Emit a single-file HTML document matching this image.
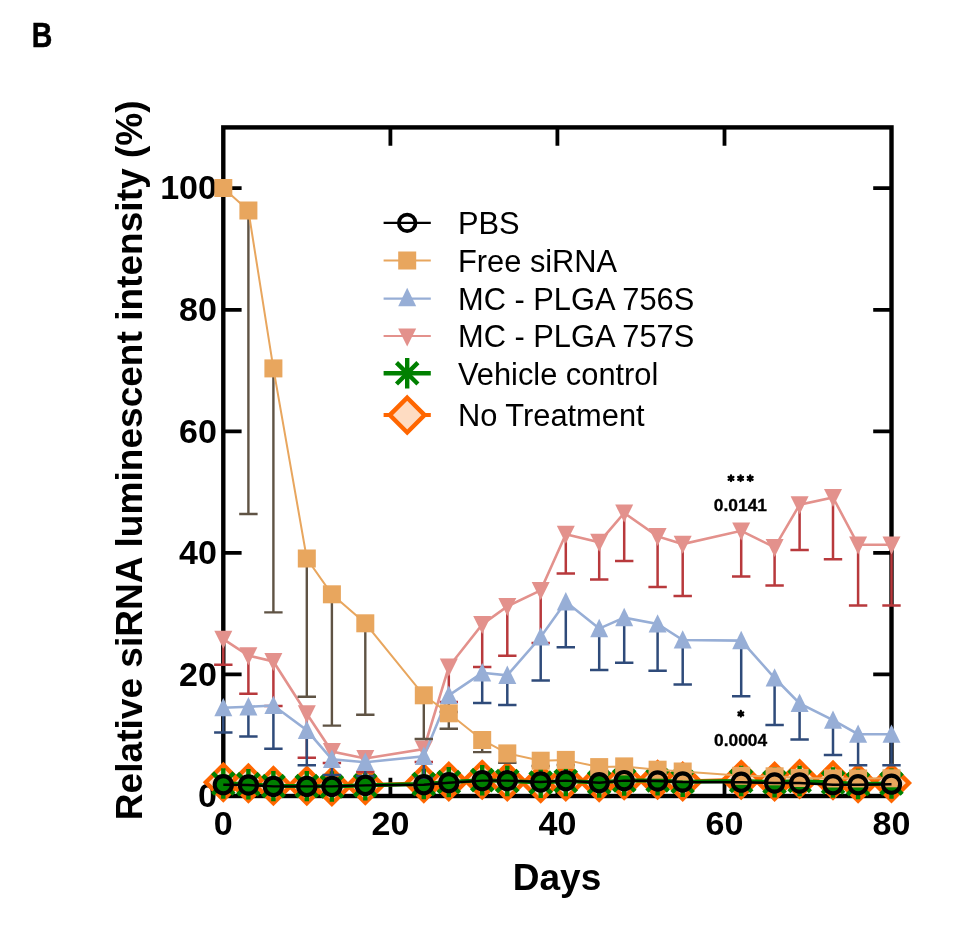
<!DOCTYPE html>
<html><head><meta charset="utf-8"><title>Figure B</title>
<style>
html,body{margin:0;padding:0;background:#fff;}
body{width:955px;height:927px;overflow:hidden;font-family:"Liberation Sans",sans-serif;}
svg{display:block;}
text{font-family:"Liberation Sans",sans-serif;fill:#000;}
.b{font-weight:bold;}
</style></head><body>
<svg style="will-change:transform" width="955" height="927" viewBox="0 0 955 927">
<rect width="955" height="927" fill="#fff"/>
<text class="b" x="31.8" y="46.9" font-size="34.2" textLength="20.6" lengthAdjust="spacingAndGlyphs" stroke="#000" stroke-width="0.5">B</text>
<rect x="223.3" y="127.4" width="668.2" height="668.6" fill="none" stroke="#000" stroke-width="4.4"/>
<path d="M223.3 674.4h18.3M891.5 674.4h-18.3M223.3 552.9h18.3M891.5 552.9h-18.3M223.3 431.3h18.3M891.5 431.3h-18.3M223.3 309.8h18.3M891.5 309.8h-18.3M223.3 188.2h18.3M891.5 188.2h-18.3M390.4 796v-18.3M390.4 127.4v18.3M557.4 796v-18.3M557.4 127.4v18.3M724.5 796v-18.3M724.5 127.4v18.3" stroke="#000" stroke-width="3.8" fill="none"/>
<text class="b" x="216.9" y="807.2" font-size="34" text-anchor="end">0</text>
<text class="b" x="216.9" y="685.6" font-size="34" text-anchor="end">20</text>
<text class="b" x="216.9" y="564.1" font-size="34" text-anchor="end">40</text>
<text class="b" x="216.9" y="442.5" font-size="34" text-anchor="end">60</text>
<text class="b" x="216.9" y="321" font-size="34" text-anchor="end">80</text>
<text class="b" x="216.9" y="199.4" font-size="34" text-anchor="end">100</text>
<text class="b" x="223.3" y="834.7" font-size="34" text-anchor="middle">0</text>
<text class="b" x="390.4" y="834.7" font-size="34" text-anchor="middle">20</text>
<text class="b" x="557.4" y="834.7" font-size="34" text-anchor="middle">40</text>
<text class="b" x="724.5" y="834.7" font-size="34" text-anchor="middle">60</text>
<text class="b" x="891.5" y="834.7" font-size="34" text-anchor="middle">80</text>
<text class="b" x="557" y="889.6" font-size="37" text-anchor="middle">Days</text>
<text class="b" transform="translate(141.8 460.3) rotate(-90)" font-size="37.1" text-anchor="middle">Relative siRNA luminescent intensity (%)</text>
<polyline points="223.3,782.3 248.4,783.3 273.4,785.8 306.8,785.8 331.9,786.5 365.3,785.3 423.8,783.3 448.8,781.5 482.2,779.7 507.3,781.5 540.7,783.3 565.8,781.5 599.2,782.3 624.2,780.3 657.6,779.7 682.7,781.5 741.2,779.7 774.6,781.5 799.6,779 833,780.3 858.1,783.3 891.5,783" fill="none" stroke="#FF6600" stroke-width="4"/>
<path d="M223.3 764.9L240.7 782.3L223.3 799.7L205.9 782.3Z" fill="#FEDCC2" stroke="#FF6600" stroke-width="4.4" stroke-linejoin="miter"/>
<path d="M248.4 765.9L265.8 783.3L248.4 800.7L231 783.3Z" fill="#FEDCC2" stroke="#FF6600" stroke-width="4.4" stroke-linejoin="miter"/>
<path d="M273.4 768.4L290.8 785.8L273.4 803.2L256 785.8Z" fill="#FEDCC2" stroke="#FF6600" stroke-width="4.4" stroke-linejoin="miter"/>
<path d="M306.8 768.4L324.2 785.8L306.8 803.2L289.4 785.8Z" fill="#FEDCC2" stroke="#FF6600" stroke-width="4.4" stroke-linejoin="miter"/>
<path d="M331.9 769.1L349.3 786.5L331.9 803.9L314.5 786.5Z" fill="#FEDCC2" stroke="#FF6600" stroke-width="4.4" stroke-linejoin="miter"/>
<path d="M365.3 767.9L382.7 785.3L365.3 802.7L347.9 785.3Z" fill="#FEDCC2" stroke="#FF6600" stroke-width="4.4" stroke-linejoin="miter"/>
<path d="M423.8 765.9L441.2 783.3L423.8 800.7L406.4 783.3Z" fill="#FEDCC2" stroke="#FF6600" stroke-width="4.4" stroke-linejoin="miter"/>
<path d="M448.8 764.1L466.2 781.5L448.8 798.9L431.4 781.5Z" fill="#FEDCC2" stroke="#FF6600" stroke-width="4.4" stroke-linejoin="miter"/>
<path d="M482.2 762.3L499.6 779.7L482.2 797.1L464.8 779.7Z" fill="#FEDCC2" stroke="#FF6600" stroke-width="4.4" stroke-linejoin="miter"/>
<path d="M507.3 764.1L524.7 781.5L507.3 798.9L489.9 781.5Z" fill="#FEDCC2" stroke="#FF6600" stroke-width="4.4" stroke-linejoin="miter"/>
<path d="M540.7 765.9L558.1 783.3L540.7 800.7L523.3 783.3Z" fill="#FEDCC2" stroke="#FF6600" stroke-width="4.4" stroke-linejoin="miter"/>
<path d="M565.8 764.1L583.2 781.5L565.8 798.9L548.4 781.5Z" fill="#FEDCC2" stroke="#FF6600" stroke-width="4.4" stroke-linejoin="miter"/>
<path d="M599.2 764.9L616.6 782.3L599.2 799.7L581.8 782.3Z" fill="#FEDCC2" stroke="#FF6600" stroke-width="4.4" stroke-linejoin="miter"/>
<path d="M624.2 762.9L641.6 780.3L624.2 797.7L606.8 780.3Z" fill="#FEDCC2" stroke="#FF6600" stroke-width="4.4" stroke-linejoin="miter"/>
<path d="M657.6 762.3L675 779.7L657.6 797.1L640.2 779.7Z" fill="#FEDCC2" stroke="#FF6600" stroke-width="4.4" stroke-linejoin="miter"/>
<path d="M682.7 764.1L700.1 781.5L682.7 798.9L665.3 781.5Z" fill="#FEDCC2" stroke="#FF6600" stroke-width="4.4" stroke-linejoin="miter"/>
<path d="M741.2 762.3L758.6 779.7L741.2 797.1L723.8 779.7Z" fill="#FEDCC2" stroke="#FF6600" stroke-width="4.4" stroke-linejoin="miter"/>
<path d="M774.6 764.1L792 781.5L774.6 798.9L757.2 781.5Z" fill="#FEDCC2" stroke="#FF6600" stroke-width="4.4" stroke-linejoin="miter"/>
<path d="M799.6 761.6L817 779L799.6 796.4L782.2 779Z" fill="#FEDCC2" stroke="#FF6600" stroke-width="4.4" stroke-linejoin="miter"/>
<path d="M833 762.9L850.4 780.3L833 797.7L815.6 780.3Z" fill="#FEDCC2" stroke="#FF6600" stroke-width="4.4" stroke-linejoin="miter"/>
<path d="M858.1 765.9L875.5 783.3L858.1 800.7L840.7 783.3Z" fill="#FEDCC2" stroke="#FF6600" stroke-width="4.4" stroke-linejoin="miter"/>
<path d="M891.5 765.6L908.9 783L891.5 800.4L874.1 783Z" fill="#FEDCC2" stroke="#FF6600" stroke-width="4.4" stroke-linejoin="miter"/>
<polyline points="223.3,783.5 248.4,784.1 273.4,786.1 306.8,786.1 331.9,786.5 365.3,785.3 423.8,784 448.8,782.1 482.2,780.2 507.3,781 540.7,782.6 565.8,781 599.2,782.5 624.2,780.5 657.6,780.4 682.7,781.8 741.2,781 774.6,782.2 799.6,781 833,782.5 858.1,784 891.5,783.6" fill="none" stroke="#008000" stroke-width="4"/>
<circle cx="223.3" cy="783.5" r="9.5" fill="#008000"/>
<path d="M223.3 768.3V798.7M212.6 772.8L234 794.2M212.6 794.2L234 772.8" stroke="#008000" stroke-width="4.4" fill="none"/>
<circle cx="248.4" cy="784.1" r="9.5" fill="#008000"/>
<path d="M248.4 768.9V799.4M237.6 773.4L259.1 794.9M237.6 794.9L259.1 773.4" stroke="#008000" stroke-width="4.4" fill="none"/>
<circle cx="273.4" cy="786.1" r="9.5" fill="#008000"/>
<path d="M273.4 770.9V801.3M262.7 775.4L284.2 796.8M262.7 796.8L284.2 775.4" stroke="#008000" stroke-width="4.4" fill="none"/>
<circle cx="306.8" cy="786.1" r="9.5" fill="#008000"/>
<path d="M306.8 770.9V801.3M296.1 775.4L317.6 796.8M296.1 796.8L317.6 775.4" stroke="#008000" stroke-width="4.4" fill="none"/>
<circle cx="331.9" cy="786.5" r="9.5" fill="#008000"/>
<path d="M331.9 771.2V801.7M321.1 775.7L342.6 797.2M321.1 797.2L342.6 775.7" stroke="#008000" stroke-width="4.4" fill="none"/>
<circle cx="365.3" cy="785.3" r="9.5" fill="#008000"/>
<path d="M365.3 770.1V800.5M354.5 774.6L376 796.1M354.5 796.1L376 774.6" stroke="#008000" stroke-width="4.4" fill="none"/>
<circle cx="423.8" cy="784" r="9.5" fill="#008000"/>
<path d="M423.8 768.8V799.2M413 773.3L434.5 794.7M413 794.7L434.5 773.3" stroke="#008000" stroke-width="4.4" fill="none"/>
<circle cx="448.8" cy="782.1" r="9.5" fill="#008000"/>
<path d="M448.8 766.9V797.3M438.1 771.4L459.6 792.8M438.1 792.8L459.6 771.4" stroke="#008000" stroke-width="4.4" fill="none"/>
<circle cx="482.2" cy="780.2" r="9.5" fill="#008000"/>
<path d="M482.2 765V795.4M471.5 769.4L493 790.9M471.5 790.9L493 769.4" stroke="#008000" stroke-width="4.4" fill="none"/>
<circle cx="507.3" cy="781" r="9.5" fill="#008000"/>
<path d="M507.3 765.8V796.2M496.5 770.3L518 791.8M496.5 791.8L518 770.3" stroke="#008000" stroke-width="4.4" fill="none"/>
<circle cx="540.7" cy="782.6" r="9.5" fill="#008000"/>
<path d="M540.7 767.4V797.9M529.9 771.9L551.4 793.4M529.9 793.4L551.4 771.9" stroke="#008000" stroke-width="4.4" fill="none"/>
<circle cx="565.8" cy="781" r="9.5" fill="#008000"/>
<path d="M565.8 765.8V796.2M555 770.3L576.5 791.8M555 791.8L576.5 770.3" stroke="#008000" stroke-width="4.4" fill="none"/>
<circle cx="599.2" cy="782.5" r="9.5" fill="#008000"/>
<path d="M599.2 767.3V797.7M588.4 771.8L609.9 793.2M588.4 793.2L609.9 771.8" stroke="#008000" stroke-width="4.4" fill="none"/>
<circle cx="624.2" cy="780.5" r="9.5" fill="#008000"/>
<path d="M624.2 765.2V795.7M613.5 769.7L635 791.2M613.5 791.2L635 769.7" stroke="#008000" stroke-width="4.4" fill="none"/>
<circle cx="657.6" cy="780.4" r="9.5" fill="#008000"/>
<path d="M657.6 765.1V795.6M646.9 769.6L668.4 791.1M646.9 791.1L668.4 769.6" stroke="#008000" stroke-width="4.4" fill="none"/>
<circle cx="682.7" cy="781.8" r="9.5" fill="#008000"/>
<path d="M682.7 766.5V797M671.9 771L693.4 792.5M671.9 792.5L693.4 771" stroke="#008000" stroke-width="4.4" fill="none"/>
<circle cx="741.2" cy="781" r="9.5" fill="#008000"/>
<path d="M741.2 765.8V796.2M730.4 770.2L751.9 791.7M730.4 791.7L751.9 770.2" stroke="#008000" stroke-width="4.4" fill="none"/>
<circle cx="774.6" cy="782.2" r="9.5" fill="#008000"/>
<path d="M774.6 767V797.5M763.8 771.5L785.3 793M763.8 793L785.3 771.5" stroke="#008000" stroke-width="4.4" fill="none"/>
<circle cx="799.6" cy="781" r="9.5" fill="#008000"/>
<path d="M799.6 765.8V796.2M788.9 770.3L810.4 791.7M788.9 791.7L810.4 770.3" stroke="#008000" stroke-width="4.4" fill="none"/>
<circle cx="833" cy="782.5" r="9.5" fill="#008000"/>
<path d="M833 767.3V797.7M822.3 771.8L843.8 793.2M822.3 793.2L843.8 771.8" stroke="#008000" stroke-width="4.4" fill="none"/>
<circle cx="858.1" cy="784" r="9.5" fill="#008000"/>
<path d="M858.1 768.8V799.2M847.3 773.3L868.8 794.7M847.3 794.7L868.8 773.3" stroke="#008000" stroke-width="4.4" fill="none"/>
<circle cx="891.5" cy="783.6" r="9.5" fill="#008000"/>
<path d="M891.5 768.4V798.8M880.8 772.9L902.2 794.3M880.8 794.3L902.2 772.9" stroke="#008000" stroke-width="4.4" fill="none"/>
<path d="M223.3 639.2V664.8M214.1 664.8H232.5" stroke="#B8393C" stroke-width="2.5" fill="none"/>
<path d="M248.4 655.6V693.7M239.2 693.7H257.6" stroke="#B8393C" stroke-width="2.5" fill="none"/>
<path d="M273.4 661.5V706M264.2 706H282.6" stroke="#B8393C" stroke-width="2.5" fill="none"/>
<path d="M306.8 713.7V757.8M297.6 757.8H316" stroke="#B8393C" stroke-width="2.5" fill="none"/>
<path d="M331.9 751.5V763M322.7 763H341.1" stroke="#B8393C" stroke-width="2.5" fill="none"/>
<path d="M365.3 758.5V772M356.1 772H374.5" stroke="#B8393C" stroke-width="2.5" fill="none"/>
<path d="M423.8 749V762M414.6 762H433" stroke="#B8393C" stroke-width="2.5" fill="none"/>
<path d="M448.8 666.8V702M439.6 702H458" stroke="#B8393C" stroke-width="2.5" fill="none"/>
<path d="M482.2 624.5V667M473 667H491.4" stroke="#B8393C" stroke-width="2.5" fill="none"/>
<path d="M507.3 606.4V655.8M498.1 655.8H516.5" stroke="#B8393C" stroke-width="2.5" fill="none"/>
<path d="M540.7 590.3V642.9M531.5 642.9H549.9" stroke="#B8393C" stroke-width="2.5" fill="none"/>
<path d="M565.8 534.2V573.4M556.6 573.4H575" stroke="#B8393C" stroke-width="2.5" fill="none"/>
<path d="M599.2 542.2V579.6M590 579.6H608.4" stroke="#B8393C" stroke-width="2.5" fill="none"/>
<path d="M624.2 513V561M615 561H633.4" stroke="#B8393C" stroke-width="2.5" fill="none"/>
<path d="M657.6 536.4V586.9M648.4 586.9H666.8" stroke="#B8393C" stroke-width="2.5" fill="none"/>
<path d="M682.7 544.1V596M673.5 596H691.9" stroke="#B8393C" stroke-width="2.5" fill="none"/>
<path d="M741.2 530.8V576.5M732 576.5H750.4" stroke="#B8393C" stroke-width="2.5" fill="none"/>
<path d="M774.6 547.4V585.6M765.4 585.6H783.8" stroke="#B8393C" stroke-width="2.5" fill="none"/>
<path d="M799.6 504.7V550.1M790.4 550.1H808.8" stroke="#B8393C" stroke-width="2.5" fill="none"/>
<path d="M833 497.5V559.2M823.8 559.2H842.2" stroke="#B8393C" stroke-width="2.5" fill="none"/>
<path d="M858.1 544.8V605.5M848.9 605.5H867.3" stroke="#B8393C" stroke-width="2.5" fill="none"/>
<path d="M891.5 544.8V605.5M882.3 605.5H900.7" stroke="#B8393C" stroke-width="2.5" fill="none"/>
<polyline points="223.3,639.2 248.4,655.6 273.4,661.5 306.8,713.7 331.9,751.5 365.3,758.5 423.8,749 448.8,666.8 482.2,624.5 507.3,606.4 540.7,590.3 565.8,534.2 599.2,542.2 624.2,513 657.6,536.4 682.7,544.1 741.2,530.8 774.6,547.4 799.6,504.7 833,497.5 858.1,544.8 891.5,544.8" fill="none" stroke="#E3918C" stroke-width="2.6"/>
<path d="M223.3 648.8L232.3 630.8L214.3 630.8Z" fill="#E3918C"/>
<path d="M248.4 665.2L257.4 647.2L239.4 647.2Z" fill="#E3918C"/>
<path d="M273.4 671.1L282.4 653.1L264.4 653.1Z" fill="#E3918C"/>
<path d="M306.8 723.3L315.8 705.3L297.8 705.3Z" fill="#E3918C"/>
<path d="M331.9 761.1L340.9 743.1L322.9 743.1Z" fill="#E3918C"/>
<path d="M365.3 768.1L374.3 750.1L356.3 750.1Z" fill="#E3918C"/>
<path d="M423.8 758.6L432.8 740.6L414.8 740.6Z" fill="#E3918C"/>
<path d="M448.8 676.4L457.8 658.4L439.8 658.4Z" fill="#E3918C"/>
<path d="M482.2 634.1L491.2 616.1L473.2 616.1Z" fill="#E3918C"/>
<path d="M507.3 616L516.3 598L498.3 598Z" fill="#E3918C"/>
<path d="M540.7 599.9L549.7 581.9L531.7 581.9Z" fill="#E3918C"/>
<path d="M565.8 543.8L574.8 525.8L556.8 525.8Z" fill="#E3918C"/>
<path d="M599.2 551.8L608.2 533.8L590.2 533.8Z" fill="#E3918C"/>
<path d="M624.2 522.6L633.2 504.6L615.2 504.6Z" fill="#E3918C"/>
<path d="M657.6 546L666.6 528L648.6 528Z" fill="#E3918C"/>
<path d="M682.7 553.7L691.7 535.7L673.7 535.7Z" fill="#E3918C"/>
<path d="M741.2 540.4L750.2 522.4L732.2 522.4Z" fill="#E3918C"/>
<path d="M774.6 557L783.6 539L765.6 539Z" fill="#E3918C"/>
<path d="M799.6 514.3L808.6 496.3L790.6 496.3Z" fill="#E3918C"/>
<path d="M833 507.1L842 489.1L824 489.1Z" fill="#E3918C"/>
<path d="M858.1 554.4L867.1 536.4L849.1 536.4Z" fill="#E3918C"/>
<path d="M891.5 554.4L900.5 536.4L882.5 536.4Z" fill="#E3918C"/>
<path d="M223.3 707.7V732.4M214.1 732.4H232.5" stroke="#2F4B7A" stroke-width="2.5" fill="none"/>
<path d="M248.4 706.8V736.4M239.2 736.4H257.6" stroke="#2F4B7A" stroke-width="2.5" fill="none"/>
<path d="M273.4 705.5V748.7M264.2 748.7H282.6" stroke="#2F4B7A" stroke-width="2.5" fill="none"/>
<path d="M306.8 730.3V765.3M297.6 765.3H316" stroke="#2F4B7A" stroke-width="2.5" fill="none"/>
<path d="M331.9 759.3V775M322.7 775H341.1" stroke="#2F4B7A" stroke-width="2.5" fill="none"/>
<path d="M365.3 762.3V776M356.1 776H374.5" stroke="#2F4B7A" stroke-width="2.5" fill="none"/>
<path d="M423.8 756.3V778M414.6 778H433" stroke="#2F4B7A" stroke-width="2.5" fill="none"/>
<path d="M448.8 695.3V712M439.6 712H458" stroke="#2F4B7A" stroke-width="2.5" fill="none"/>
<path d="M482.2 672.8V703M473 703H491.4" stroke="#2F4B7A" stroke-width="2.5" fill="none"/>
<path d="M507.3 675.4V705M498.1 705H516.5" stroke="#2F4B7A" stroke-width="2.5" fill="none"/>
<path d="M540.7 637V680.4M531.5 680.4H549.9" stroke="#2F4B7A" stroke-width="2.5" fill="none"/>
<path d="M565.8 601.8V647.3M556.6 647.3H575" stroke="#2F4B7A" stroke-width="2.5" fill="none"/>
<path d="M599.2 628.6V670M590 670H608.4" stroke="#2F4B7A" stroke-width="2.5" fill="none"/>
<path d="M624.2 617.6V662.8M615 662.8H633.4" stroke="#2F4B7A" stroke-width="2.5" fill="none"/>
<path d="M657.6 624V670.8M648.4 670.8H666.8" stroke="#2F4B7A" stroke-width="2.5" fill="none"/>
<path d="M682.7 640V684.5M673.5 684.5H691.9" stroke="#2F4B7A" stroke-width="2.5" fill="none"/>
<path d="M741.2 640.6V696.2M732 696.2H750.4" stroke="#2F4B7A" stroke-width="2.5" fill="none"/>
<path d="M774.6 678V724.9M765.4 724.9H783.8" stroke="#2F4B7A" stroke-width="2.5" fill="none"/>
<path d="M799.6 703.4V739.4M790.4 739.4H808.8" stroke="#2F4B7A" stroke-width="2.5" fill="none"/>
<path d="M833 720.2V755M823.8 755H842.2" stroke="#2F4B7A" stroke-width="2.5" fill="none"/>
<path d="M858.1 734.2V765.3M848.9 765.3H867.3" stroke="#2F4B7A" stroke-width="2.5" fill="none"/>
<path d="M891.5 734.2V765.3M882.3 765.3H900.7" stroke="#2F4B7A" stroke-width="2.5" fill="none"/>
<polyline points="223.3,707.7 248.4,706.8 273.4,705.5 306.8,730.3 331.9,759.3 365.3,762.3 423.8,756.3 448.8,695.3 482.2,672.8 507.3,675.4 540.7,637 565.8,601.8 599.2,628.6 624.2,617.6 657.6,624 682.7,640 741.2,640.6 774.6,678 799.6,703.4 833,720.2 858.1,734.2 891.5,734.2" fill="none" stroke="#97AED6" stroke-width="2.6"/>
<path d="M223.3 697.9L232.3 716.3L214.3 716.3Z" fill="#97AED6"/>
<path d="M248.4 697L257.4 715.4L239.4 715.4Z" fill="#97AED6"/>
<path d="M273.4 695.7L282.4 714.1L264.4 714.1Z" fill="#97AED6"/>
<path d="M306.8 720.5L315.8 738.9L297.8 738.9Z" fill="#97AED6"/>
<path d="M331.9 749.5L340.9 767.9L322.9 767.9Z" fill="#97AED6"/>
<path d="M365.3 752.5L374.3 770.9L356.3 770.9Z" fill="#97AED6"/>
<path d="M423.8 746.5L432.8 764.9L414.8 764.9Z" fill="#97AED6"/>
<path d="M448.8 685.5L457.8 703.9L439.8 703.9Z" fill="#97AED6"/>
<path d="M482.2 663L491.2 681.4L473.2 681.4Z" fill="#97AED6"/>
<path d="M507.3 665.6L516.3 684L498.3 684Z" fill="#97AED6"/>
<path d="M540.7 627.2L549.7 645.6L531.7 645.6Z" fill="#97AED6"/>
<path d="M565.8 592L574.8 610.4L556.8 610.4Z" fill="#97AED6"/>
<path d="M599.2 618.8L608.2 637.2L590.2 637.2Z" fill="#97AED6"/>
<path d="M624.2 607.8L633.2 626.2L615.2 626.2Z" fill="#97AED6"/>
<path d="M657.6 614.2L666.6 632.6L648.6 632.6Z" fill="#97AED6"/>
<path d="M682.7 630.2L691.7 648.6L673.7 648.6Z" fill="#97AED6"/>
<path d="M741.2 630.8L750.2 649.2L732.2 649.2Z" fill="#97AED6"/>
<path d="M774.6 668.2L783.6 686.6L765.6 686.6Z" fill="#97AED6"/>
<path d="M799.6 693.6L808.6 712L790.6 712Z" fill="#97AED6"/>
<path d="M833 710.4L842 728.8L824 728.8Z" fill="#97AED6"/>
<path d="M858.1 724.4L867.1 742.8L849.1 742.8Z" fill="#97AED6"/>
<path d="M891.5 724.4L900.5 742.8L882.5 742.8Z" fill="#97AED6"/>
<path d="M248.4 210.5V514M239.2 514H257.6" stroke="#5f5344" stroke-width="2.4" fill="none"/>
<path d="M273.4 368.4V612.4M264.2 612.4H282.6" stroke="#5f5344" stroke-width="2.4" fill="none"/>
<path d="M306.8 558.5V696.7M297.6 696.7H316" stroke="#5f5344" stroke-width="2.4" fill="none"/>
<path d="M331.9 594.3V725.6M322.7 725.6H341.1" stroke="#5f5344" stroke-width="2.4" fill="none"/>
<path d="M365.3 623.3V714.8M356.1 714.8H374.5" stroke="#5f5344" stroke-width="2.4" fill="none"/>
<path d="M423.8 695.3V739M414.6 739H433" stroke="#5f5344" stroke-width="2.4" fill="none"/>
<path d="M448.8 713.3V728.8M439.6 728.8H458" stroke="#5f5344" stroke-width="2.4" fill="none"/>
<path d="M482.2 740V752.1M473 752.1H491.4" stroke="#5f5344" stroke-width="2.4" fill="none"/>
<path d="M507.3 753.4V762.8M498.1 762.8H516.5" stroke="#5f5344" stroke-width="2.4" fill="none"/>
<path d="M540.7 760.7V766M531.5 766H549.9" stroke="#5f5344" stroke-width="2.4" fill="none"/>
<path d="M565.8 759.9V765M556.6 765H575" stroke="#5f5344" stroke-width="2.4" fill="none"/>
<path d="M599.2 767.1V771M590 771H608.4" stroke="#5f5344" stroke-width="2.4" fill="none"/>
<path d="M624.2 766.4V770M615 770H633.4" stroke="#5f5344" stroke-width="2.4" fill="none"/>
<path d="M657.6 769.7V773M648.4 773H666.8" stroke="#5f5344" stroke-width="2.4" fill="none"/>
<path d="M682.7 771.5V774M673.5 774H691.9" stroke="#5f5344" stroke-width="2.4" fill="none"/>
<polyline points="223.3,188 248.4,210.5 273.4,368.4 306.8,558.5 331.9,594.3 365.3,623.3 423.8,695.3 448.8,713.3 482.2,740 507.3,753.4 540.7,760.7 565.8,759.9 599.2,767.1 624.2,766.4 657.6,769.7 682.7,771.5 741.2,775.8 774.6,776.3 799.6,778 833,778.5 858.1,778.5 891.5,778.3" fill="none" stroke="#E8A65E" stroke-width="2"/>
<rect x="214.3" y="179" width="18" height="18" fill="#E8A65E"/>
<rect x="239.4" y="201.5" width="18" height="18" fill="#E8A65E"/>
<rect x="264.4" y="359.4" width="18" height="18" fill="#E8A65E"/>
<rect x="297.8" y="549.5" width="18" height="18" fill="#E8A65E"/>
<rect x="322.9" y="585.3" width="18" height="18" fill="#E8A65E"/>
<rect x="356.3" y="614.3" width="18" height="18" fill="#E8A65E"/>
<rect x="414.8" y="686.3" width="18" height="18" fill="#E8A65E"/>
<rect x="439.8" y="704.3" width="18" height="18" fill="#E8A65E"/>
<rect x="473.2" y="731" width="18" height="18" fill="#E8A65E"/>
<rect x="498.3" y="744.4" width="18" height="18" fill="#E8A65E"/>
<rect x="531.7" y="751.7" width="18" height="18" fill="#E8A65E"/>
<rect x="556.8" y="750.9" width="18" height="18" fill="#E8A65E"/>
<rect x="590.2" y="758.1" width="18" height="18" fill="#E8A65E"/>
<rect x="615.2" y="757.4" width="18" height="18" fill="#E8A65E"/>
<rect x="648.6" y="760.7" width="18" height="18" fill="#E8A65E"/>
<rect x="673.7" y="762.5" width="18" height="18" fill="#E8A65E"/>
<rect x="732.2" y="766.8" width="18" height="18" fill="#E8A65E"/>
<rect x="765.6" y="767.3" width="18" height="18" fill="#E8A65E"/>
<rect x="790.6" y="769" width="18" height="18" fill="#E8A65E"/>
<rect x="824" y="769.5" width="18" height="18" fill="#E8A65E"/>
<rect x="849.1" y="769.5" width="18" height="18" fill="#E8A65E"/>
<rect x="882.5" y="769.3" width="18" height="18" fill="#E8A65E"/>
<polyline points="223.3,784.7 248.4,785 273.4,786.4 306.8,786.4 331.9,786.4 365.3,785.4 423.8,784.7 448.8,782.7 482.2,780.6 507.3,780.6 540.7,782 565.8,780.6 599.2,782.7 624.2,780.6 657.6,781 682.7,782 741.2,782.2 774.6,783 799.6,783 833,784.7 858.1,784.7 891.5,784.2" fill="none" stroke="#000" stroke-width="2.4"/>
<circle cx="223.3" cy="784.7" r="8.6" fill="none" stroke="#000" stroke-width="4.1"/>
<circle cx="248.4" cy="785" r="8.6" fill="none" stroke="#000" stroke-width="4.1"/>
<circle cx="273.4" cy="786.4" r="8.6" fill="none" stroke="#000" stroke-width="4.1"/>
<circle cx="306.8" cy="786.4" r="8.6" fill="none" stroke="#000" stroke-width="4.1"/>
<circle cx="331.9" cy="786.4" r="8.6" fill="none" stroke="#000" stroke-width="4.1"/>
<circle cx="365.3" cy="785.4" r="8.6" fill="none" stroke="#000" stroke-width="4.1"/>
<circle cx="423.8" cy="784.7" r="8.6" fill="none" stroke="#000" stroke-width="4.1"/>
<circle cx="448.8" cy="782.7" r="8.6" fill="none" stroke="#000" stroke-width="4.1"/>
<circle cx="482.2" cy="780.6" r="8.6" fill="none" stroke="#000" stroke-width="4.1"/>
<circle cx="507.3" cy="780.6" r="8.6" fill="none" stroke="#000" stroke-width="4.1"/>
<circle cx="540.7" cy="782" r="8.6" fill="none" stroke="#000" stroke-width="4.1"/>
<circle cx="565.8" cy="780.6" r="8.6" fill="none" stroke="#000" stroke-width="4.1"/>
<circle cx="599.2" cy="782.7" r="8.6" fill="none" stroke="#000" stroke-width="4.1"/>
<circle cx="624.2" cy="780.6" r="8.6" fill="none" stroke="#000" stroke-width="4.1"/>
<circle cx="657.6" cy="781" r="8.6" fill="none" stroke="#000" stroke-width="4.1"/>
<circle cx="682.7" cy="782" r="8.6" fill="none" stroke="#000" stroke-width="4.1"/>
<circle cx="741.2" cy="782.2" r="8.6" fill="none" stroke="#000" stroke-width="4.1"/>
<circle cx="774.6" cy="783" r="8.6" fill="none" stroke="#000" stroke-width="4.1"/>
<circle cx="799.6" cy="783" r="8.6" fill="none" stroke="#000" stroke-width="4.1"/>
<circle cx="833" cy="784.7" r="8.6" fill="none" stroke="#000" stroke-width="4.1"/>
<circle cx="858.1" cy="784.7" r="8.6" fill="none" stroke="#000" stroke-width="4.1"/>
<circle cx="891.5" cy="784.2" r="8.6" fill="none" stroke="#000" stroke-width="4.1"/>
<path d="M383.6 222.9H430.8" stroke="#000" stroke-width="2.4"/>
<circle cx="407.2" cy="222.9" r="8.3" fill="none" stroke="#000" stroke-width="3.8"/>
<path d="M383.6 260.5H430.8" stroke="#E8A65E" stroke-width="2"/>
<rect x="398.2" y="251.5" width="18" height="18" fill="#E8A65E"/>
<path d="M383.6 298.6H430.8" stroke="#97AED6" stroke-width="2.2"/>
<path d="M407.2 287.8L416.2 306.2L398.2 306.2Z" fill="#97AED6"/>
<path d="M383.6 336H430.8" stroke="#E3918C" stroke-width="2.2"/>
<path d="M407.2 346.6L416.2 328.6L398.2 328.6Z" fill="#E3918C"/>
<path d="M383.6 373.3H430.8" stroke="#008000" stroke-width="4.4"/>
<path d="M407.2 358.1V388.5M396.5 362.6L417.9 384M396.5 384L417.9 362.6" stroke="#008000" stroke-width="4.4" fill="none"/>
<path d="M383.6 415.1H430.8" stroke="#FF6600" stroke-width="4"/>
<path d="M407.2 397.7L424.6 415.1L407.2 432.5L389.8 415.1Z" fill="#FEDCC2" stroke="#FF6600" stroke-width="4.4" stroke-linejoin="miter"/>
<text x="458" y="234.2" font-size="30.8">PBS</text>
<text x="458" y="271.8" font-size="30.8">Free siRNA</text>
<text x="458" y="309.9" font-size="30.8">MC - PLGA 756S</text>
<text x="458" y="347.3" font-size="30.8">MC - PLGA 757S</text>
<text x="458" y="384.6" font-size="30.8">Vehicle control</text>
<text x="458" y="426.4" font-size="30.8">No Treatment</text>
<path d="M731 475.5L731 481.1M728.6 476.9L733.4 479.7M733.4 476.9L728.6 479.7" stroke="#000" stroke-width="2.3" stroke-linecap="round" fill="none"/>
<path d="M740.6 475.5L740.6 481.1M738.2 476.9L743 479.7M743 476.9L738.2 479.7" stroke="#000" stroke-width="2.3" stroke-linecap="round" fill="none"/>
<path d="M750.2 475.5L750.2 481.1M747.8 476.9L752.6 479.7M752.6 476.9L747.8 479.7" stroke="#000" stroke-width="2.3" stroke-linecap="round" fill="none"/>
<path d="M740.8 711L740.8 716.6M738.4 712.4L743.2 715.2M743.2 712.4L738.4 715.2" stroke="#000" stroke-width="2.3" stroke-linecap="round" fill="none"/>
<text class="b" x="740.4" y="510.9" font-size="17.4" text-anchor="middle" stroke="#000" stroke-width="0.3">0.0141</text>
<text class="b" x="740.6" y="746.2" font-size="17.4" text-anchor="middle" stroke="#000" stroke-width="0.3">0.0004</text>
</svg></body></html>
